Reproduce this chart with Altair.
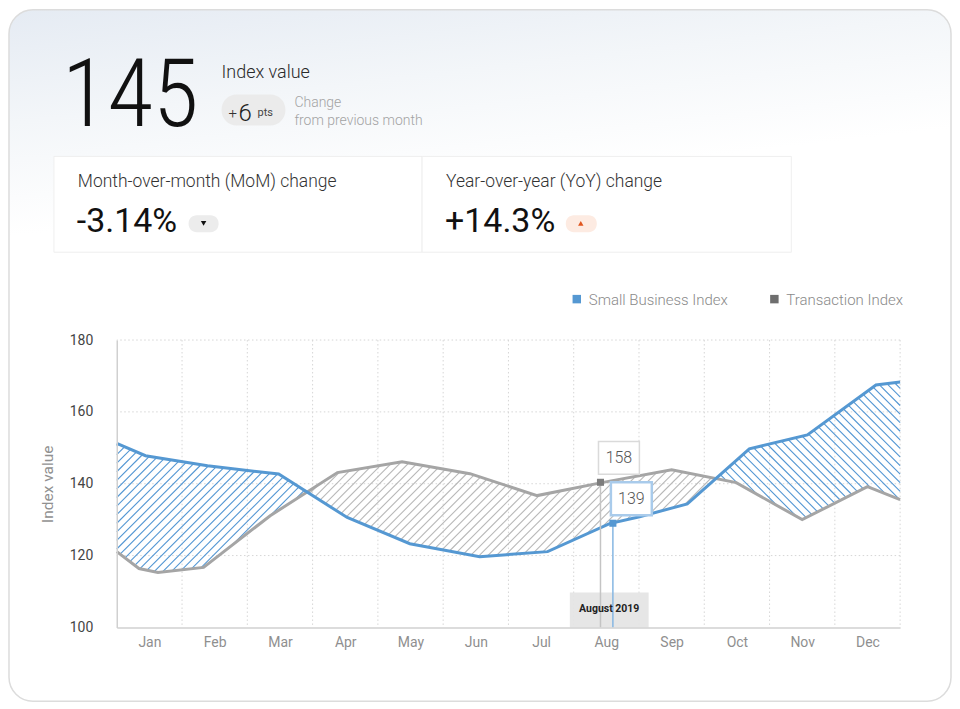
import json
import numpy as np
import pandas as pd
import altair as alt

# ---- data ----------------------------------------------------------------
months = ["Jan", "Feb", "Mar", "Apr", "May", "Jun",
          "Jul", "Aug", "Sep", "Oct", "Nov", "Dec"]

# Small Business Index (blue) – x is position in months from Jan 1
sbi_m = [0, 0.44, 1.39, 2.48, 3.53, 4.49, 5.56, 6.60, 7.55, 8.01, 8.74, 9.69, 10.58, 11.63, 12.0]
sbi_v = [151.2, 147.8, 145.0, 142.7, 130.6, 123.3, 119.7, 121.1, 128.9, 130.8, 134.4, 149.7, 153.6, 167.5, 168.3]

# Transaction Index (gray)
tx_m = [0, 0.34, 0.63, 1.33, 2.35, 3.38, 4.37, 5.41, 6.44, 7.43, 8.50, 9.49, 10.50, 11.50, 12.0]
tx_v = [121.1, 116.4, 115.3, 116.7, 131.1, 143.1, 146.1, 142.8, 136.7, 140.3, 143.9, 140.3, 130.0, 139.2, 135.6]

# hovered month (August 2019)
focus_series = ["Transaction Index", "Small Business Index"]
focus_m = [7.41, 7.60]
focus_v = [140.4, 129.0]
focus_label = ["158", "139"]
focus_title = "August 2019"

y_ticks = [100, 120, 140, 160, 180]

# ---- layout -------------------------------------------------------------
W, H = 785, 288          # plot area
OX, OY = 116, 339        # plot origin on the page
PX_M = W / 12
PX_V = H / 80
BLUE = "#5598d2"
GRAY = "#a5a5a5"
FONT = "Roboto"

one = pd.DataFrame({"k": [0]})


def text(s, x, y, size, color="#222", weight=400, align="left", baseline="alphabetic", font=FONT):
    return alt.Chart(one).mark_text(
        text=s, fontSize=size, color=color, fontWeight=weight, align=align,
        baseline=baseline, font=font
    ).encode(x=alt.value(x - OX), y=alt.value(y - OY))


def box(x0, y0, x1, y1, fill, stroke=None, radius=0, sw=1, opacity=1):
    kw = dict(fill=fill, cornerRadius=radius, opacity=opacity)
    if stroke:
        kw.update(stroke=stroke, strokeWidth=sw)
    return alt.Chart(one).mark_rect(**kw).encode(
        x=alt.value(x0 - OX), x2=alt.value(x1 - OX),
        y=alt.value(y0 - OY), y2=alt.value(y1 - OY))


def marker(shape, x, y, size, color):
    return alt.Chart(one).mark_point(shape=shape, filled=True, size=size, color=color, opacity=1).encode(
        x=alt.value(x - OX), y=alt.value(y - OY))


def hatch_lines(band, direction, spacing_px=8.6):
    # 45deg hatch segments clipped to the band between hi and lo
    s = direction * PX_M / PX_V
    ms = np.linspace(band.m.min(), band.m.max(), 4000)
    hi = np.interp(ms, band.m, band.hi)
    lo = np.interp(ms, band.m, band.lo)
    dc = spacing_px / PX_V
    cmin, cmax = (lo - s * ms).min(), (hi - s * ms).max()
    rows = []
    for c in np.arange(np.floor(cmin / dc) * dc, cmax + dc, dc):
        v = c + s * ms
        inside = ((v <= hi) & (v >= lo)).astype(int)
        edges = np.flatnonzero(np.diff(np.r_[0, inside, 0]))
        for a, e in zip(edges[::2], edges[1::2]):
            m0, m1 = ms[a], ms[e - 1]
            if m1 > m0:
                rows.append((m0, c + s * m0, m1, c + s * m1))
    return pd.DataFrame(rows, columns=["m", "v", "m2", "v2"])


xscale = alt.Scale(domain=[0, 12], nice=False, zero=False)
yscale = alt.Scale(domain=[100, 180], nice=False, zero=False)
label_expr = "datum.value < 12 ? %s[datum.value] : ''" % json.dumps(months).replace('"', "'")
xaxis = alt.Axis(values=list(range(13)), labelExpr=label_expr, labelOffset=PX_M / 2,
                 labelFlush=False, labelOverlap=False, ticks=False, grid=False,
                 domainColor="#d0d0d0", domainWidth=1.5, labelColor="#8f8f8f",
                 labelFontSize=14, labelFont=FONT, labelPadding=8, title=None, zindex=1)
yaxis = alt.Axis(values=y_ticks, ticks=False, grid=False, domainColor="#d0d0d0", domainWidth=1.5,
                 labelColor="#444", labelFontSize=14, labelFont=FONT, labelPadding=24,
                 title="Index value", titleFont=FONT, titleFontSize=15.5, titleColor="#909090",
                 titleFontWeight="normal", titlePadding=14, zindex=1)


def X(field):
    return alt.X(field, type="quantitative", scale=xscale, axis=xaxis)


def Y(field):
    return alt.Y(field, type="quantitative", scale=yscale, axis=yaxis)


layers = []

# card background
card_fill = {"gradient": "linear", "x1": 0, "y1": 0, "x2": 0.05, "y2": 0.32,
             "stops": [{"offset": 0, "color": "#e5ebf3"}, {"offset": 0.5, "color": "#f3f6f9"},
                       {"offset": 1, "color": "#ffffff"}]}
layers.append(box(8, 8, 952, 701, card_fill, stroke="#dcdcdc", radius=24, sw=1.5))

# header
layers.append(text("145", 61, 125, 94, color="#111", weight=300, font="'Roboto Condensed', Roboto"))
layers.append(text("Index value", 221, 76, 18, color="#2a2a2a", weight=300))
layers.append(box(221, 93, 285, 124, "#ebebeb", radius=15))
layers.append(text("+", 228, 116, 15, color="#333", weight=300))
layers.append(text("6", 238, 120, 24, color="#222", weight=300))
layers.append(text("pts", 257, 114, 11, color="#444"))
layers.append(text("Change", 294, 105, 14, color="#a3a3a3", weight=300))
layers.append(text("from previous month", 294, 124, 14, color="#a3a3a3", weight=300))

# KPI cards
layers.append(box(53, 155, 422, 251, "#ffffff", stroke="#efefef"))
layers.append(box(422, 155, 792, 251, "#ffffff", stroke="#efefef"))
layers.append(text("Month-over-month (MoM) change", 77, 186, 17.5, color="#333", weight=300))
layers.append(text("-3.14%", 76, 231, 34, color="#111"))
layers.append(box(188, 214, 218, 231, "#ececec", radius=8))
layers.append(marker("triangle-down", 203, 222, 30, "#111"))
layers.append(text("Year-over-year (YoY) change", 446, 186, 17.5, color="#333", weight=300))
layers.append(text("+14.3%", 445, 231, 34, color="#111"))
layers.append(box(566, 214, 597, 231, "#fdebe2", radius=8))
layers.append(marker("triangle-up", 581, 222, 30, "#e0561f"))

# legend
layers.append(marker("square", 577, 298, 72, BLUE))
layers.append(text("Small Business Index", 589, 304, 15, color="#8a8a8a", weight=300))
layers.append(marker("square", 775, 298, 72, "#6e6e6e"))
layers.append(text("Transaction Index", 787, 304, 15, color="#8a8a8a", weight=300))

# grid
grid_v = pd.DataFrame({"m": list(range(1, 13))})
grid_h = pd.DataFrame({"v": y_ticks[1:]})
layers.append(alt.Chart(grid_v).mark_rule(color="#d6d6d6", strokeDash=[1.5, 2.5], strokeWidth=1).encode(x=X("m")))
layers.append(alt.Chart(grid_h).mark_rule(color="#d6d6d6", strokeDash=[1.5, 2.5], strokeWidth=1).encode(y=Y("v")))

# hatched bands between the two series
grid_m = np.union1d(sbi_m, tx_m)
b = np.interp(grid_m, sbi_m, sbi_v)
g = np.interp(grid_m, tx_m, tx_v)
pts = []
for i in range(len(grid_m)):
    if i > 0:
        d0, d1 = b[i - 1] - g[i - 1], b[i] - g[i]
        if d0 * d1 < 0:
            t = d0 / (d0 - d1)
            mc = grid_m[i - 1] + t * (grid_m[i] - grid_m[i - 1])
            vc = b[i - 1] + t * (b[i] - b[i - 1])
            pts.append((mc, vc, vc, True))
    pts.append((grid_m[i], b[i], g[i], False))

segments, cur, sign = [], [], None
for m, bb, gg, cross in pts:
    if cross:
        cur.append((m, bb, gg))
        segments.append((sign, cur))
        cur, sign = [(m, bb, gg)], None
        continue
    if sign is None:
        sign = 1 if bb >= gg else -1
    cur.append((m, bb, gg))
segments.append((sign, cur))

for sign, seg in segments:
    band = pd.DataFrame(seg, columns=["m", "b", "g"])
    band["hi"] = band[["b", "g"]].max(axis=1)
    band["lo"] = band[["b", "g"]].min(axis=1)
    if sign > 0:
        direction = -1 if band.m.min() > 6 else 1
        lines, col = hatch_lines(band, direction), "#5296d3"
    else:
        lines, col = hatch_lines(band, 1), "#b8b8b8"
    layers.append(alt.Chart(lines).mark_rule(color=col, strokeWidth=1.1).encode(
        x=X("m"), y=Y("v"), x2="m2", y2="v2"))

# series lines
tx_df = pd.DataFrame({"m": tx_m, "v": tx_v})
sbi_df = pd.DataFrame({"m": sbi_m, "v": sbi_v})
layers.append(alt.Chart(tx_df).mark_line(color=GRAY, strokeWidth=3).encode(x=X("m"), y=Y("v")))
layers.append(alt.Chart(sbi_df).mark_line(color=BLUE, strokeWidth=3).encode(x=X("m"), y=Y("v")))

# hover tooltip for August
layers.append(box(570, 592, 649, 627, "#e4e4e4", opacity=0.92))
focus = pd.DataFrame({"series": focus_series, "m": focus_m, "v": focus_v,
                      "label": focus_label, "base": [100, 100]})
styles = {"Transaction Index": ("#c4c4c4", "#7d7d7d", "#dadada", 1.5),
          "Small Business Index": ("#86b6e2", BLUE, "#a9cbeb", 2.5)}
for s in focus_series:
    rule_c, dot_c, box_c, bw = styles[s]
    d = alt.Chart(focus).transform_filter(alt.datum.series == s)
    layers.append(d.mark_rule(color=rule_c, strokeWidth=1.5).encode(x=X("m"), y=Y("v"), y2="base"))
    layers.append(d.mark_square(color=dot_c, size=50, opacity=1).encode(x=X("m"), y=Y("v")))
    layers.append(d.mark_rect(fill="white", stroke=box_c, strokeWidth=bw,
                              xOffset=-2, x2Offset=39, yOffset=-41, y2Offset=-8).encode(
        x=X("m"), x2="m", y=Y("v"), y2="v"))
    layers.append(d.mark_text(fontSize=16, color="#555", font=FONT, fontWeight=300,
                              dx=18.5, dy=-24, baseline="middle").encode(
        x=X("m"), y=Y("v"), text="label:N"))
layers.append(text(focus_title, 609.5, 609, 10.5, color="#222", weight="bold",
                   align="center", baseline="middle"))

chart = alt.layer(*layers).properties(width=W, height=H, padding=0).configure_view(stroke=None)

chart.save("out.html", embed_options={"renderer": "svg", "actions": False})
